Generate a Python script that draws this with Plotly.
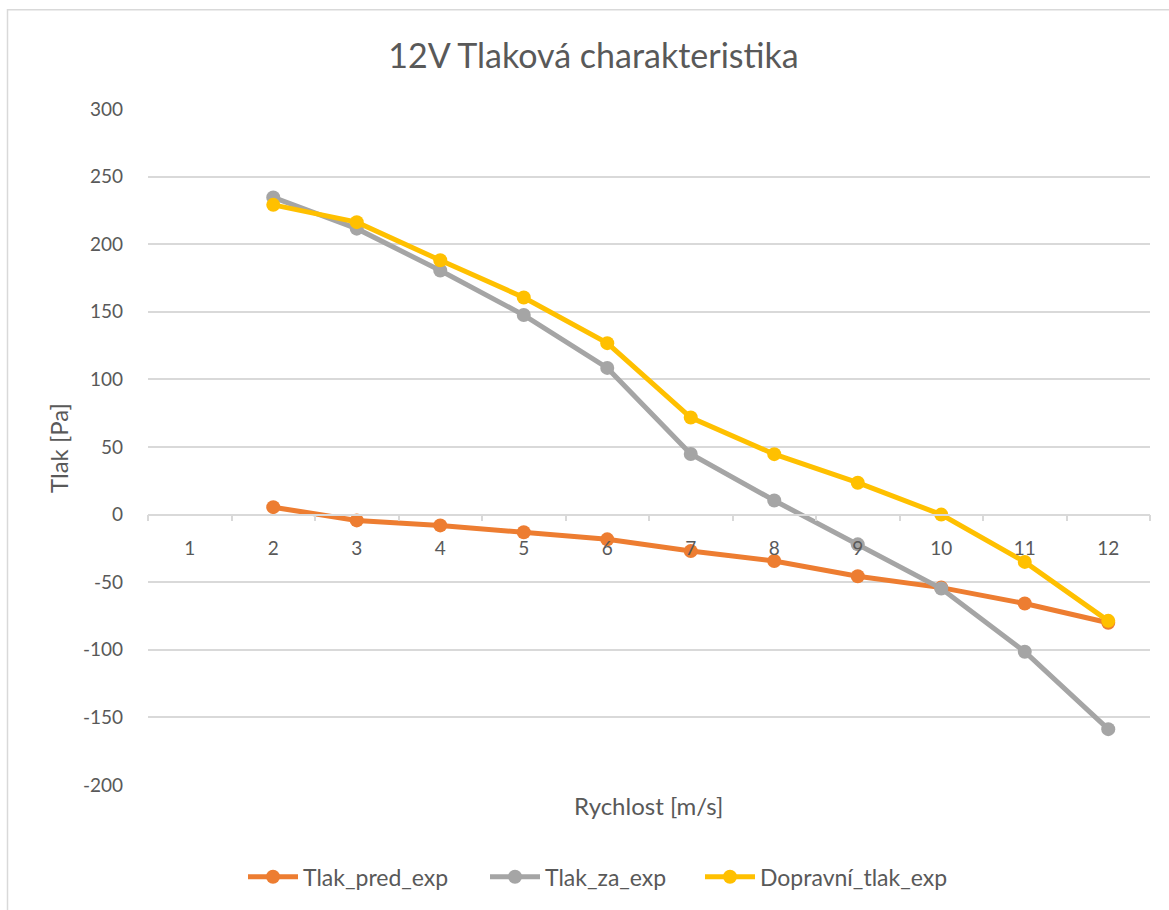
import plotly.graph_objects as go

categories = ["1", "2", "3", "4", "5", "6", "7", "8", "9", "10", "11", "12"]
x_data = ["2", "3", "4", "5", "6", "7", "8", "9", "10", "11", "12"]
tlak_pred_exp = [5.5, -4.3, -8.0, -13.0, -18.3, -27.0, -34.3, -45.6, -54.0, -65.8, -80.0]
tlak_za_exp = [234.6, 211.5, 180.5, 147.6, 108.5, 44.8, 10.4, -22.0, -54.7, -101.4, -158.7]
dopravni_tlak_exp = [229.1, 216.3, 188.1, 160.6, 126.8, 71.8, 44.7, 23.6, 0.0, -35.0, -78.6]
y_ticks = [-200, -150, -100, -50, 0, 50, 100, 150, 200, 250, 300]
y_tick_labels = ["-200", "-150", "-100", "-50", "0", "50", "100", "150", "200", "250", "300"]

series = [
    ("Tlak_pred_exp", tlak_pred_exp, "#ED7D31", "legend"),
    ("Tlak_za_exp", tlak_za_exp, "#A5A5A5", "legend2"),
    ("Dopravní_tlak_exp", dopravni_tlak_exp, "#FFC000", "legend3"),
]

FONT = "Lato"
TXT = "#595959"
GRID = "#D9D9D9"

fig = go.Figure()
for name, vals, col, lg in series:
    fig.add_trace(go.Scatter(
        x=x_data, y=vals, name=name, mode="lines+markers",
        line=dict(color=col, width=5),
        marker=dict(color=col, size=14),
        legend=lg,
    ))

L, R, T, B = 148, 19, 109, 123
W, H = 1169, 910
pw = W - L - R
ph = H - T - B

def px(x):
    return (x - L) / pw

def py(y):
    return (H - B - y) / ph

def legend_at(xpix):
    return dict(orientation="h", x=px(xpix), xanchor="left",
                y=py(879), yanchor="middle",
                font=dict(family=FONT, size=23, color=TXT),
                itemwidth=50, bgcolor="rgba(0,0,0,0)")

fig.update_layout(
    width=W, height=H,
    margin=dict(l=L, r=R, t=T, b=B),
    paper_bgcolor="white", plot_bgcolor="white",
    font=dict(family=FONT, color=TXT, size=18),
    title=dict(text="12V Tlaková charakteristika", x=593.5 / W, xanchor="center",
               xref="container",
               y=1 - 56 / H, yanchor="middle",
               font=dict(family=FONT, size=34, color=TXT)),
    showlegend=True,
    legend=legend_at(243),
    legend2=legend_at(485),
    legend3=legend_at(700),
    xaxis=dict(
        type="category", categoryorder="array", categoryarray=categories,
        range=[-0.5, 11.5],
        anchor="free", position=0.4,
        showgrid=False, showline=True, linecolor=GRID, linewidth=1.5,
        ticks="outside", tickson="boundaries", ticklen=6, tickcolor=GRID, tickwidth=1.5,
        tickfont=dict(family=FONT, size=19, color=TXT),
        ticklabelstandoff=17,
        zeroline=False,
    ),
    yaxis=dict(
        range=[-200, 300], tickvals=y_ticks, ticktext=y_tick_labels,
        showgrid=True, gridcolor=GRID, gridwidth=1.5,
        zeroline=False, showline=False, ticks="",
        tickfont=dict(family=FONT, size=19, color=TXT),
        ticklabelstandoff=24,
    ),
)

fig.add_annotation(text="Rychlost [m/s]", xref="paper", yref="paper",
                   x=px(648), y=py(808), xanchor="center", yanchor="middle",
                   showarrow=False, font=dict(family=FONT, size=24, color=TXT))
fig.add_annotation(text="Tlak [Pa]", xref="paper", yref="paper",
                   x=px(59), y=py(449), xanchor="center", yanchor="middle",
                   textangle=-90,
                   showarrow=False, font=dict(family=FONT, size=24, color=TXT))

# chart area border (Excel style)
fig.add_shape(type="rect", xref="paper", yref="paper",
              x0=px(7.5), x1=px(1180), y0=py(9.5), y1=py(925),
              line=dict(color=GRID, width=1.5), fillcolor="rgba(0,0,0,0)", layer="below")

fig.write_html("out.html")
